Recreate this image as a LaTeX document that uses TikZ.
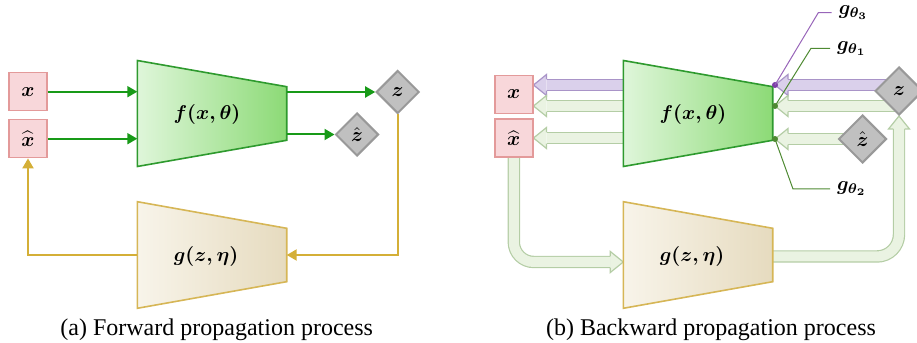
\documentclass[tikz,border=0pt]{standalone}
\usepackage{amsmath}
\usepackage[no-math]{fontspec}
\setmainfont{Liberation Serif}
\usetikzlibrary{arrows.meta, shapes.geometric, backgrounds}

\definecolor{fwdgreen}{HTML}{189A18}
\definecolor{bwdgold}{HTML}{D4AF37}
\definecolor{boxfill}{HTML}{F8D7DA}
\definecolor{boxline}{HTML}{E39A9A}
\definecolor{diafill}{HTML}{C0C0C0}
\definecolor{dialine}{HTML}{999999}
\definecolor{fleft}{HTML}{DFF6DA}
\definecolor{fright}{HTML}{8CDA76}
\definecolor{fline}{HTML}{2E9A2E}
\definecolor{gleft}{HTML}{F8F4EA}
\definecolor{gright}{HTML}{E6DBBF}
\definecolor{gline}{HTML}{D6B656}
\definecolor{gradfill}{HTML}{EAF3E2}
\definecolor{gradline}{HTML}{B4CDA5}
\definecolor{purpfill}{HTML}{DAD0EB}
\definecolor{purpline}{HTML}{A994C8}
\definecolor{purpdot}{HTML}{7E3FA8}
\definecolor{greendot}{HTML}{4E8A32}

\tikzset{
  inbox/.style={draw=boxline, fill=boxfill, line width=0.7pt, minimum size=19pt, inner sep=0pt},
  outdia/.style={diamond, draw=dialine, fill=diafill, line width=1pt, inner sep=0pt, minimum size=#1},
  fbody/.style={draw=fline, line width=0.8pt, left color=fleft, right color=fright},
  gbody/.style={draw=gline, line width=0.8pt, left color=gleft, right color=gright},
  fwd/.style={draw=fwdgreen, line width=1pt, -{Triangle[length=5pt,width=5.5pt]}},
  bwd/.style={draw=bwdgold, line width=1pt, -{Triangle[length=5pt,width=5.5pt]}},
  fatgreen/.style={draw=gradline, double=gradfill, double distance=5pt, line width=0.6pt, shorten >=6.5pt},
  fatpurple/.style={draw=purpline, double=purpfill, double distance=5pt, line width=0.6pt, shorten >=6.5pt},
  leadp/.style={draw=purpdot!80, line width=0.5pt},
  leadg/.style={draw=greendot, line width=0.5pt},
  captext/.style={font=\fontsize{12}{14}\selectfont},
  pics/fathead/.style 2 args={code={
    \filldraw[fill=#1, draw=#2, line width=0.6pt] (-13,5.6) -- (-13,10.5) -- (0,0) -- (-13,-10.5) -- (-13,-5.6);
  }}
}

\begin{document}
\begin{tikzpicture}[x=0.5pt, y=0.5pt]
\useasboundingbox (0,0) rectangle (917,343);

% (a) forward
\begin{scope}
    % inputs
    \node[inbox] (x) at (28,251.3) {$\boldsymbol{x}$};
    \node[inbox] (xh) at (28,204.3) {$\widehat{\boldsymbol{x}}$};

    % f and g
    \draw[fbody] (137.3,282.5) -- (286.7,256.3) -- (286.7,202.7) -- (137.3,176.5) -- cycle;
    \node (f) at (207,228) {$\boldsymbol{f(x,\theta)}$};
    \coordinate (fL) at (137.3,229.5);
    \coordinate (fR) at (286.7,229.5);
    \draw[gbody] (137.3,141.3) -- (286.7,114.7) -- (286.7,61.3) -- (137.3,34.7) -- cycle;
    \node (g) at (206,86.3) {$\boldsymbol{g(z,\eta)}$};
    \coordinate (gL) at (137.3,88);
    \coordinate (gR) at (286.7,88);

    % outputs
    \node[outdia=21.5pt] (z) at (397.7,251) {$\boldsymbol{z}$};
    \node[outdia=21.5pt] (zh) at (357,208.5) {$\hat{\boldsymbol{z}}$};

    % arrows
    \draw[fwd] (x.east) -- (x.east -| fL);
    \draw[fwd] (xh.east) -- (xh.east -| fL);
    \draw[fwd] (fR |- z.west) -- (z.west);
    \draw[fwd] (fR |- zh.west) -- (zh.west);
    \draw[bwd] (z.south) |- (gR);
    \draw[bwd] (gL) -| (xh.south);

    \node[captext] (capa) at (216.7,13) {(a) Forward propagation process};
\end{scope}

% (b) backward
\begin{scope}[xshift=243pt]
    % inputs
    \node[inbox] (x) at (27.8,248.5) {$\boldsymbol{x}$};
    \node[inbox] (xh) at (27.8,205) {$\widehat{\boldsymbol{x}}$};

    % f and g
    \draw[fbody] (137.3,282.5) -- (286.7,256.3) -- (286.7,202.7) -- (137.3,176.5) -- cycle;
    \node (f) at (207,228) {$\boldsymbol{f(x,\theta)}$};
    \coordinate (fL) at (137.3,229.5);
    \draw[gbody] (137.3,141.3) -- (286.7,114.7) -- (286.7,61.3) -- (137.3,34.7) -- cycle;
    \node (g) at (206,86.3) {$\boldsymbol{g(z,\eta)}$};
    \coordinate (gin) at (137.3,81);
    \coordinate (gout) at (286.7,86.5);

    % outputs
    \node[outdia=24pt] (z) at (413,252) {$\boldsymbol{z}$};
    \node[outdia=24pt] (zh) at (376.5,204) {$\hat{\boldsymbol{z}}$};

    % gradient points
    \coordinate (d3) at (289,258);
    \coordinate (d1) at (289,237);
    \coordinate (d2) at (289,204);

    % gradient flow
    \begin{scope}[on background layer]
        \draw[fatpurple] (z.center |- d3) -- (d3);
        \pic[rotate=180] at (d3) {fathead={purpfill}{purpline}};
        \draw[fatpurple] (fL |- d3) -- (x.east |- d3);
        \pic[rotate=180] at (x.east |- d3) {fathead={purpfill}{purpline}};
        \draw[fatgreen] (z.center |- d1) -- (d1);
        \pic[rotate=180] at (d1) {fathead={gradfill}{gradline}};
        \draw[fatgreen] (zh.center) -- (d2);
        \pic[rotate=180] at (d2) {fathead={gradfill}{gradline}};
        \draw[fatgreen] (fL |- d1) -- (x.east |- d1);
        \pic[rotate=180] at (x.east |- d1) {fathead={gradfill}{gradline}};
        \draw[fatgreen] (fL |- xh) -- (xh.east);
        \pic[rotate=180] at (xh.east) {fathead={gradfill}{gradline}};
        \draw[fatgreen, rounded corners=10pt] (xh.south) |- (gin);
        \pic at (gin) {fathead={gradfill}{gradline}};
        \draw[fatgreen, rounded corners=11pt] (gout) -| (z.south);
        \pic[rotate=90] at (z.south) {fathead={gradfill}{gradline}};
    \end{scope}

    % g_theta labels
    \fill[purpdot] (d3) circle (3);
    \fill[greendot] (d1) circle (3);
    \fill[greendot] (d2) circle (3);
    \node[anchor=west] (l3) at (345.7,330.3) {$\boldsymbol{g_{\theta_3}}$};
    \node[anchor=west] (l1) at (344,294.7) {$\boldsymbol{g_{\theta_1}}$};
    \node[anchor=west] (l2) at (344,154) {$\boldsymbol{g_{\theta_2}}$};
    \draw[leadp] (d3) -- ([xshift=-6.7pt]l3.west) -- (l3.west);
    \draw[leadg] (d1) -- ([xshift=-9.5pt]l1.west) -- (l1.west);
    \draw[leadg] (d2) -- ([xshift=-18.5pt]l2.west) -- (l2.west);

    \node[captext] (capb) at (225,13) {(b) Backward propagation process};
\end{scope}

\end{tikzpicture}
\end{document}
